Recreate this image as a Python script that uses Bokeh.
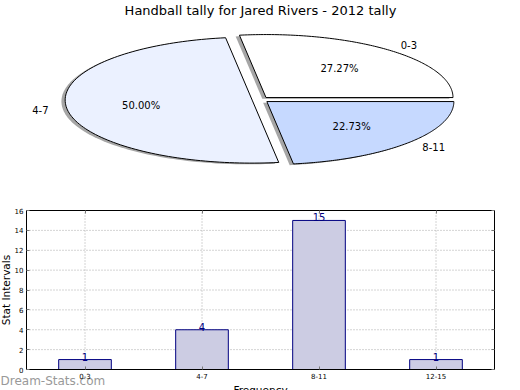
import numpy as np
from bokeh.plotting import figure
from bokeh.layouts import column
from bokeh.models import Range1d, FactorRange, FixedTicker, LinearAxis, CategoricalAxis
from bokeh.embed import file_html
from bokeh.resources import INLINE
from bokeh.core.properties import value

# ---------------- data ----------------
title = "Handball tally for Jared Rivers - 2012 tally"
pie_labels = ["0-3", "4-7", "8-11"]
pie_pcts = [27.27, 50.00, 22.73]
pie_colors = ["#FFFFFF", "#EBF1FF", "#C6D9FF"]

bar_cats = ["0-3", "4-7", "8-11", "12-15"]
bar_vals = [1, 4, 15, 1]
y_ticks = [0, 2, 4, 6, 8, 10, 12, 14, 16]
x_title = "Frequency"
y_title = "Stat Intervals"
watermark = "Dream-Stats.com"

FONT = value("DejaVu Sans")

# ---------------- pie (elliptical) ----------------
W = 520
PIE_H = 190
RX, RY = 187.0, 63.0     # pixel radii of the squashed pie
CX, CY = 260.0, 99.2     # pixel centre
explode = 0.045
p1 = figure(width=W, height=PIE_H,
            x_range=Range1d(-CX / RX, (W - CX) / RX),
            y_range=Range1d(-(PIE_H - CY) / RY, CY / RY),
            x_axis_location=None, y_axis_location=None,
            toolbar_location=None, output_backend="svg",
            min_border=0, outline_line_color=None)
p1.grid.grid_line_color = None

xs, ys, sxs, sys_ = [], [], [], []
lab_pos, pct_pos = [], []
t0 = 0.0
for pct in pie_pcts:
    t1 = t0 + pct / 100.0 * 2 * np.pi
    mid = 0.5 * (t0 + t1)
    ox, oy = explode * np.cos(mid), explode * np.sin(mid)
    th = np.linspace(t0, t1, 120)
    px = np.concatenate([[ox], ox + np.cos(th), [ox]])
    py = np.concatenate([[oy], oy + np.sin(th), [oy]])
    xs.append(px.tolist()); ys.append(py.tolist())
    sxs.append((px - 0.02).tolist()); sys_.append((py - 0.02).tolist())
    lab_pos.append((ox + 1.1 * np.cos(mid), oy + 1.1 * np.sin(mid)))
    pct_pos.append((ox + 0.6 * np.cos(mid), oy + 0.6 * np.sin(mid)))
    t0 = t1

p1.patches(sxs, sys_, fill_color="#4d4d4d", fill_alpha=0.5, line_color=None)
p1.patches(xs, ys, fill_color=pie_colors, line_color="black", line_width=1)

for (lx, ly), lab in zip(lab_pos, pie_labels):
    p1.text(x=[lx], y=[ly], text=[lab], text_align="left" if lx > 0 else "right",
            text_baseline="middle", text_font=FONT, text_font_size="10px", text_color="black")
for (lx, ly), pct in zip(pct_pos, pie_pcts):
    p1.text(x=[lx], y=[ly], text=["%.2f%%" % pct], text_align="center",
            text_baseline="middle", text_font=FONT, text_font_size="10px", text_color="black")

p1.text(x=[0], y=[(CY - 10) / RY], text=[title], text_align="center", text_baseline="middle",
        text_font=FONT, text_font_size="13px", text_color="black")

# ---------------- bar chart (frame covers whole canvas, axes fixed on the box) ----------------
BAR_H = 200
TOP = PIE_H                      # page y of this canvas
n = len(bar_cats)
XU = 117.0                       # px per category
PAD = (W - n * XU) / 2.0 / XU    # synthetic padding each side
BOX_T, BOX_B = 210.0 - TOP, 369.0 - TOP
YU = (BOX_B - BOX_T) / 16.0
y_lo = -(BAR_H - BOX_B) / YU
y_hi = 16 + BOX_T / YU

p2 = figure(width=W, height=BAR_H,
            x_range=FactorRange(*bar_cats, range_padding=PAD, range_padding_units="absolute"),
            y_range=Range1d(y_lo, y_hi),
            toolbar_location=None, output_backend="svg", min_border=0,
            outline_line_color=None)
p2.grid.grid_line_color = None

# dotted grid inside the box
gy = [t for t in y_ticks if 0 < t < 16]
p2.segment(x0=[0] * len(gy), x1=[n] * len(gy), y0=gy, y1=gy,
           line_color="#a8a8a8", line_dash="1 2", line_width=1)
p2.segment(x0=bar_cats, x1=bar_cats, y0=[0] * n, y1=[16] * n,
           line_color="#a8a8a8", line_dash="1 2", line_width=1)

p2.vbar(x=bar_cats, top=bar_vals, width=0.45, fill_color="#CCCCE3", line_color="#000080", line_width=1)
p2.quad(left=[0], right=[n], bottom=[0], top=[16], fill_color=None, line_color="black", line_width=1)
p2.text(x=bar_cats, y=bar_vals, text=[str(v) for v in bar_vals], text_align="center",
        text_baseline="bottom", y_offset=1, text_font=FONT, text_font_size="10px",
        text_color="#000080")

bottom_ax = p2.xaxis[0]
left_ax = p2.yaxis[0]
left_ax.ticker = FixedTicker(ticks=y_ticks)
top_ax = CategoricalAxis()
right_ax = LinearAxis(ticker=FixedTicker(ticks=y_ticks))
p2.add_layout(top_ax, "above")
p2.add_layout(right_ax, "right")
bottom_ax.fixed_location = 0
top_ax.fixed_location = 16
left_ax.fixed_location = 0
right_ax.fixed_location = n

for ax in (bottom_ax, left_ax, top_ax, right_ax):
    ax.axis_label = None
    ax.major_tick_in = 3
    ax.major_tick_out = 0
    ax.minor_tick_line_color = None
    ax.major_tick_line_color = "#777777"
    ax.axis_line_color = None
    ax.major_label_text_font = "DejaVu Sans"
    ax.major_label_text_font_size = "7px"
    ax.major_label_text_color = "black"
for ax in (top_ax, right_ax):
    ax.major_label_text_color = None
    ax.major_label_standoff = 0
bottom_ax.major_label_standoff = 3
left_ax.major_label_standoff = 3

# axis titles and watermark
p2.text(x=[(5 - PAD * XU) / XU], y=[8], text=[y_title], angle=np.pi / 2, text_align="center",
        text_baseline="middle", text_font=FONT, text_font_size="10.5px", text_color="black")
p2.text(x=[n / 2], y=[(BOX_B - (389 - TOP)) / YU], text=[x_title], text_align="center",
        text_baseline="middle", text_font=FONT, text_font_size="10.5px", text_color="black")
p2.text(x=[-PAD], y=[(BOX_B - (380 - TOP)) / YU], text=[watermark], text_align="left",
        text_baseline="middle", text_font=FONT, text_font_size="12px", text_color="#999999")

layout = column(p1, p2, spacing=0)

open("out.html", "w").write(file_html(layout, INLINE))
